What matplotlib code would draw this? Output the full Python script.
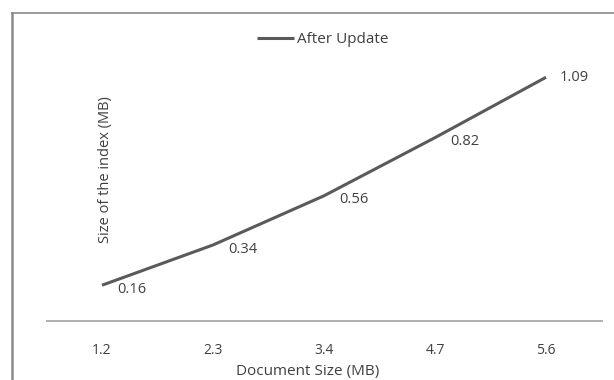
import matplotlib
matplotlib.use("Agg")
import matplotlib.pyplot as plt
from matplotlib.lines import Line2D

categories = ["1.2", "2.3", "3.4", "4.7", "5.6"]
after_update = [0.16, 0.34, 0.56, 0.82, 1.09]
series_name = "After Update"

plt.rcParams['font.family'] = ['Open Sans', 'DejaVu Sans']

W, H = 614, 380
fig = plt.figure(figsize=(W / 100, H / 100), dpi=100)
fig.patch.set_facecolor("white")

# outer chart frame (left and top visible)
frame_col = "#8a8a8a"
fig.add_artist(Line2D([12 / W, 12 / W], [0, 1 - 12.5 / H], transform=fig.transFigure,
                      color=frame_col, lw=1.8))
fig.add_artist(Line2D([12 / W, 1], [1 - 12.5 / H, 1 - 12.5 / H], transform=fig.transFigure,
                      color=frame_col, lw=1.2))

left, right = 46.5 / W, 601.5 / W
bottom = 1 - 321 / H
ymax = 1.2
top = 1 - (321 - ymax * 223.6) / H
ax = fig.add_axes([left, bottom, right - left, top - bottom])
ax.set_facecolor("none")

x = list(range(len(categories)))
line, = ax.plot(x, after_update, color="#5a5a5a", lw=2.2, solid_capstyle="butt",
                label=series_name)

ax.set_xlim(-0.5, len(categories) - 0.5)
ax.set_ylim(0, ymax)

for i, v in enumerate(after_update):
    if i == len(after_update) - 1:
        ax.annotate(f"{v:.2f}", (i, v), xytext=(10, 0), textcoords="offset points",
                    ha="left", va="center", fontsize=10.5, color="#404040")
    else:
        ax.annotate(f"{v:.2f}", (i, v), xytext=(11, -3), textcoords="offset points",
                    ha="left", va="center", fontsize=10.5, color="#404040")

for s in ["top", "right", "left"]:
    ax.spines[s].set_visible(False)
ax.spines["bottom"].set_color("#a8a8a8")
ax.spines["bottom"].set_linewidth(1.3)

ax.set_xticks(x)
ax.set_xticklabels(categories, fontsize=10, color="#404040")
ax.tick_params(axis="x", length=0, pad=16)
ax.set_yticks([])

ax.text((106 - 46.5) / 555, (321 - 170) / (ymax * 223.6), "Size of the index (MB)",
        rotation=90, ha="center", va="center", fontsize=10.5, color="#404040",
        transform=ax.transAxes)
ax.text((308 - 46.5) / 555, -(371 - 321) / (ymax * 223.6), "Document Size (MB)",
        ha="center", va="center", fontsize=11, color="#404040",
        transform=ax.transAxes, clip_on=False)

fig.legend(handles=[line], loc="center", bbox_to_anchor=(322.5 / W, 1 - 39.5 / H),
           frameon=False, fontsize=11, handlelength=2.4, handletextpad=0.2,
           labelcolor="#404040")

fig.savefig("out.png", dpi=100)
